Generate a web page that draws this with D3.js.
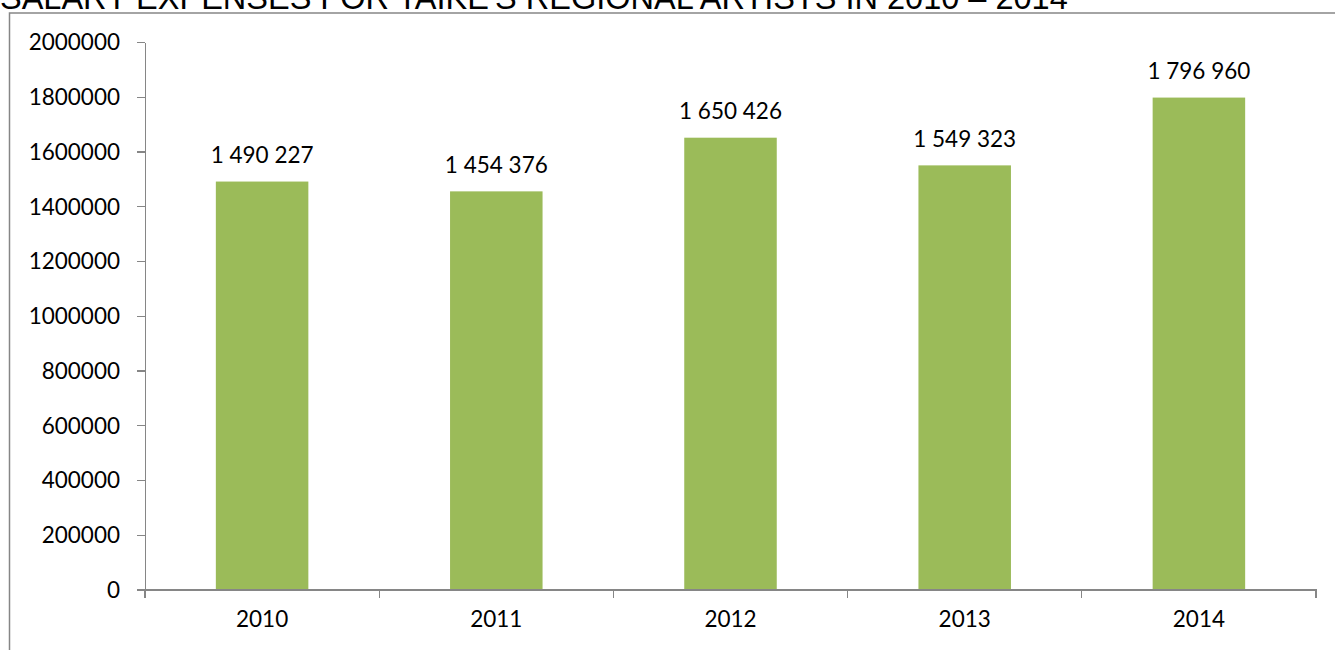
<!DOCTYPE html>
<html>
<head>
<meta charset="utf-8">
<script src="https://cdn.jsdelivr.net/npm/d3@7"></script>
<style>
  body { margin: 0; background: #fff; }
  svg { display: block; }
  .axis path, .axis line { stroke: #868686; stroke-width: 1.3; shape-rendering: crispEdges; }
  .axis text { font-family: Lato, "Open Sans", sans-serif; font-size: 22.5px; fill: #000; }
  .label { font-family: Lato, "Open Sans", sans-serif; font-size: 22.5px; fill: #000; }
  .title { font-family: "Liberation Sans", Arial, sans-serif; font-size: 32.5px; fill: #000; }
</style>
</head>
<body>
<div id="chart"></div>
<script>
// chart data
var titleText = "SALARY EXPENSES FOR TAIKE'S REGIONAL ARTISTS IN 2010 \u2013 2014";
var years = ["2010", "2011", "2012", "2013", "2014"];
var expenses = [1490227, 1454376, 1650426, 1549323, 1796960];
var yTicks = [0, 200000, 400000, 600000, 800000, 1000000, 1200000, 1400000, 1600000, 1800000, 2000000];

var W = 1335, H = 650;
var margin = {top: 42, right: 19, bottom: 60.5, left: 145};
var width = W - margin.left - margin.right,
    height = H - margin.top - margin.bottom;

var svg = d3.select("#chart").append("svg")
    .attr("width", W)
    .attr("height", H);

// outer frame of the chart (cut by the page edge)
svg.append("rect")
    .attr("x", 9.5)
    .attr("y", 13)
    .attr("width", W + 20)
    .attr("height", H + 20)
    .attr("fill", "none")
    .attr("stroke", "#868686")
    .attr("stroke-width", 1.5);

// title, half hidden above the top of the page
svg.append("text")
    .attr("class", "title")
    .attr("x", 0)
    .attr("y", 9)
    .text(titleText);

var g = svg.append("g")
    .attr("transform", "translate(" + margin.left + "," + margin.top + ")");

var x = d3.scaleBand().domain(years).range([0, width]).paddingInner(0).paddingOuter(0);
var y = d3.scaleLinear().domain([0, 2000000]).range([height, 0]);

var barW = x.bandwidth() * 0.395;

// bars
g.selectAll("rect.bar")
    .data(expenses)
    .enter().append("rect")
    .attr("class", "bar")
    .attr("x", function(d, i) { return x(years[i]) + (x.bandwidth() - barW) / 2; })
    .attr("y", function(d) { return y(d); })
    .attr("width", barW)
    .attr("height", function(d) { return height - y(d); })
    .attr("fill", "#9BBB59");

// value labels, thousands separated by spaces
var fmt = function(v) { return d3.format(",")(v).replace(/,/g, " "); };
g.selectAll("text.label")
    .data(expenses)
    .enter().append("text")
    .attr("class", "label")
    .attr("x", function(d, i) { return x(years[i]) + x.bandwidth() / 2; })
    .attr("y", function(d) { return y(d) - 18.5; })
    .attr("text-anchor", "middle")
    .text(fmt);

// y axis
var yAxis = d3.axisLeft(y).tickValues(yTicks).tickFormat(d3.format("d")).tickSizeInner(8).tickSizeOuter(0).tickPadding(17);
g.append("g")
    .attr("class", "y axis")
    .call(yAxis)
    .selectAll("text").attr("dy", "0.35em");

// x axis, ticks sit on category boundaries
var xAxisG = g.append("g")
    .attr("class", "x axis")
    .attr("transform", "translate(0," + height + ")")
    .call(d3.axisBottom(x).tickSize(0).tickPadding(22));
xAxisG.selectAll("text").attr("dy", "0.71em");

var bounds = years.map(function(d) { return x(d); }).concat([width]);
xAxisG.selectAll("line.bound")
    .data(bounds)
    .enter().append("line")
    .attr("class", "bound")
    .attr("x1", function(d) { return d; })
    .attr("x2", function(d) { return d; })
    .attr("y1", 0)
    .attr("y2", 8);
</script>
</body>
</html>
